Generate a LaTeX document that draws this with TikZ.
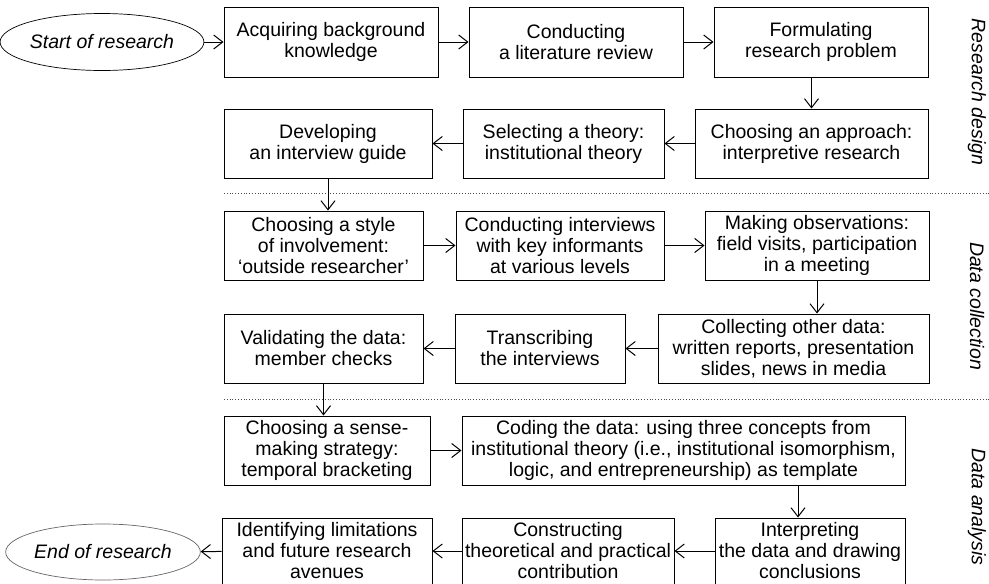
\documentclass[tikz,border=0pt]{standalone}
\usepackage{fontspec}
\setmainfont{Liberation Sans}
\usetikzlibrary{arrows.meta,shapes.geometric,positioning}

\newcommand{\boxfont}{\fontsize{19.5pt}{21pt}\selectfont}

\tikzset{
  stepbox/.style={draw, rectangle, align=center, inner sep=1pt, line width=1pt, font=\boxfont},
  endpoint/.style={draw, ellipse, inner sep=0pt, line width=0.7pt, font=\boxfont\itshape},
  phase/.style={rotate=-90, font=\boxfont\itshape},
  sep/.style={dotted, line width=0.8pt, black!70},
}

\begin{document}
\begin{tikzpicture}[x=1pt, y=-1pt, >={Straight Barb[length=9pt,width=14pt,line width=1pt]}, line width=1pt]
  \useasboundingbox (0,0) rectangle (989,584);

  % research design
  \node[endpoint, minimum width=176pt, minimum height=57pt] (start) at (102,42) {Start of research};
  \node[stepbox, minimum width=214pt, minimum height=70pt] (a1) at (331,42) {Acquiring background\\knowledge};
  \node[stepbox, minimum width=214pt, minimum height=70pt] (a2) at (576,42) {Conducting\\a literature review};
  \node[stepbox, minimum width=214pt, minimum height=70pt] (a3) at (821,42) {Formulating\\research problem};
  \node[stepbox, minimum width=233pt, minimum height=69pt] (b3) at (811.5,143.5) {Choosing an approach:\\interpretive research};
  \node[stepbox, minimum width=201pt, minimum height=69pt] (b2) at (563.5,143.5) {Selecting a theory:\\institutional theory};
  \node[stepbox, minimum width=208pt, minimum height=69pt] (b1) at (328,143.5) {Developing\\an interview guide};

  % data collection
  \node[stepbox, minimum width=199pt, minimum height=69pt] (c1) at (323.5,245.5) {Choosing a style\\of involvement:\\`outside researcher'};
  \node[stepbox, minimum width=208pt, minimum height=69pt] (c2) at (560,245.5) {Conducting interviews\\with key informants\\at various levels};
  \node[stepbox, minimum width=224pt, minimum height=69pt] (c3) at (817,245.5) {Making observations:\\field visits, participation\\in a meeting};
  \node[stepbox, minimum width=271pt, minimum height=69pt] (d3) at (793.5,348.5) {Collecting other data:\\written reports, presentation\\slides, news in media};
  \node[stepbox, minimum width=170pt, minimum height=69pt] (d2) at (540,348.5) {Transcribing\\the interviews};
  \node[stepbox, minimum width=199pt, minimum height=69pt] (d1) at (323.5,348.5) {Validating the data:\\member checks};

  % data analysis
  \node[stepbox, minimum width=206pt, minimum height=69pt] (e1) at (327,450.5) {Choosing a sense-\\making strategy:\\temporal bracketing};
  \node[stepbox, minimum width=443pt, minimum height=69pt] (e2) at (683.5,450.5) {Coding the data: using three concepts from\\institutional theory (i.e., institutional isomorphism,\\logic, and entrepreneurship) as template};
  \node[stepbox, minimum width=190pt, minimum height=66pt] (f3) at (810,551) {Interpreting\\the data and drawing\\conclusions};
  \node[stepbox, minimum width=212pt, minimum height=66pt] (f2) at (568,551) {Constructing\\theoretical and practical\\contribution};
  \node[stepbox, minimum width=210pt, minimum height=66pt] (f1) at (327,551) {Identifying limitations\\and future research\\avenues};
  \node[endpoint, minimum width=178pt, minimum height=56pt, draw=black!60] (end) at (103,552) {End of research};

  % phase labels
  \node[phase] (pdesign) at (977,92) {Research design};
  \node[phase] (pcollect) at (977,306) {Data collection};
  \node[phase] (panalysis) at (977,507) {Data analysis};

  % separators
  \draw[sep] (224,193) -- (989,193);
  \draw[sep] (224,399) -- (989,399);

  \path[->]
    (start) edge (a1)
    (a1) edge (a2)
    (a2) edge (a3)
    (a3.south -| b3) edge (b3)
    (b3) edge (b2)
    (b2) edge (b1)
    (b1) edge (b1 |- c1.north)
    (c1) edge (c2)
    (c2) edge (c3)
    (c3) edge (c3 |- d3.north)
    (d3) edge (d2)
    (d2) edge (d1)
    (d1) edge (d1 |- e1.north)
    (e1) edge (e2)
    ([xshift=-12pt]e2.south -| f3) edge ([xshift=-12pt]f3.north)
    (f3) edge (f2)
    (f2) edge (f1)
    (f1) edge (end);
\end{tikzpicture}
\end{document}
